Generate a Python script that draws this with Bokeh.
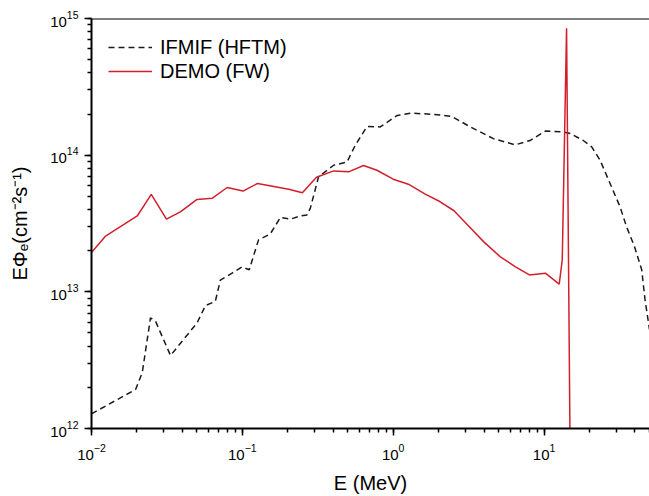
from bokeh.plotting import figure
from bokeh.models import (Range1d, LogTicker, Span, Legend, ColumnDataSource)
from bokeh.embed import file_html
from bokeh.resources import INLINE

# ---------------- data ----------------
ifmif_E = [0.01, 0.0196, 0.0217, 0.0246, 0.0266, 0.0334, 0.0501, 0.0569, 0.0662,
           0.0715, 0.0855, 0.0995, 0.111, 0.128, 0.153, 0.179, 0.208, 0.242, 0.268,
           0.282, 0.32, 0.403, 0.494, 0.56, 0.67, 0.82, 1.06, 1.3, 1.85, 2.45, 3.24,
           4.62, 6.43, 8.07, 10.2, 13.4, 14.9, 18.2, 20.7, 23.5, 27.4, 31.9, 35.2,
           39.8, 44.4, 46.7, 50.0]
ifmif_phi = [1.28e12, 1.93e12, 2.56e12, 6.44e12, 6.08e12, 3.42e12, 5.93e12, 7.93e12,
             8.52e12, 1.22e13, 1.37e13, 1.52e13, 1.45e13, 2.40e13, 2.65e13, 3.51e13,
             3.40e13, 3.59e13, 3.65e13, 4.08e13, 6.94e13, 8.44e13, 8.90e13, 1.18e14,
             1.62e14, 1.61e14, 1.95e14, 2.03e14, 1.99e14, 1.92e14, 1.61e14, 1.32e14,
             1.19e14, 1.28e14, 1.50e14, 1.48e14, 1.44e14, 1.28e14, 1.15e14, 9.2e13,
             6.2e13, 4.19e13, 3.0e13, 2.14e13, 1.45e13, 8.75e12, 5.3e12]

demo_E = [0.01, 0.0124, 0.0201, 0.0249, 0.0314, 0.0388, 0.0501, 0.063, 0.0793,
          0.101, 0.126, 0.203, 0.25, 0.31, 0.403, 0.506, 0.636, 0.78, 1.0, 1.26,
          1.63, 2.05, 2.53, 3.15, 3.97, 5.11, 6.43, 8.0, 10.2, 12.6, 13.2, 14.1, 15.1]
demo_phi = [1.94e13, 2.56e13, 3.59e13, 5.17e13, 3.40e13, 3.85e13, 4.74e13, 4.83e13,
            5.80e13, 5.46e13, 6.21e13, 5.64e13, 5.30e13, 6.9e13, 7.67e13, 7.55e13,
            8.40e13, 7.76e13, 6.67e13, 6.13e13, 5.19e13, 4.56e13, 3.92e13, 3.05e13,
            2.33e13, 1.81e13, 1.53e13, 1.33e13, 1.37e13, 1.14e13, 1.71e13, 8.5e14, 1e11]

series_names = ["IFMIF (HFTM)", "DEMO (FW)"]
x_label = "E (MeV)"
y_label = "EΦₑ(cm⁻²s⁻¹)"

FONT = "Liberation Sans"

W, H = 649, 496
ML, MR, MT, MB = 91, 0, 18, H - 429

p = figure(width=W, height=H, x_axis_type="log", y_axis_type="log",
           x_range=Range1d(0.01, 50), y_range=Range1d(1e12, 1e15),
           output_backend="svg", toolbar_location=None,
           min_border_left=ML, min_border_right=MR, min_border_top=MT,
           min_border_bottom=MB, outline_line_color=None)
p.xgrid.visible = False
p.ygrid.visible = False

src_i = ColumnDataSource(dict(x=ifmif_E, y=ifmif_phi))
src_d = ColumnDataSource(dict(x=demo_E, y=demo_phi))
r1 = p.line("x", "y", source=src_i, line_color="#1a1a1a", line_dash="6 4", line_width=1.5)
r2 = p.line("x", "y", source=src_d, line_color="#d21f2b", line_width=1.5)

for ax in (p.xaxis, p.yaxis):
    ax.ticker = LogTicker(num_minor_ticks=10)
    ax.axis_line_width = 2
    ax.axis_line_color = "black"
    ax.major_tick_line_width = 1.5
    ax.minor_tick_line_width = 1.5
    ax.major_tick_line_color = "black"
    ax.minor_tick_line_color = "black"
    ax.major_tick_in = 0
    ax.major_tick_out = 7
    ax.minor_tick_in = 0
    ax.minor_tick_out = 4
    ax.major_label_text_font = FONT
    ax.major_label_text_font_size = "15px"
    ax.major_label_text_color = "black"
    ax.axis_label_text_font = FONT
    ax.axis_label_text_font_size = "20px"
    ax.axis_label_text_font_style = "normal"
    ax.axis_label_text_color = "black"
p.xaxis.major_label_standoff = 8
p.yaxis.major_label_standoff = 6

p.xaxis.axis_label = x_label
p.xaxis.axis_label_standoff = 9
p.yaxis.axis_label = y_label
p.yaxis.axis_label_standoff = 16

# top border line
p.add_layout(Span(location=1e15, dimension="width", line_color="black", line_width=2))

legend = Legend(items=[(series_names[0], [r1]), (series_names[1], [r2])],
                location="top_left", margin=17, padding=0, spacing=0,
                glyph_width=44, glyph_height=24, label_height=24, label_standoff=8,
                label_text_font=FONT, label_text_font_size="20px",
                label_text_color="black", border_line_color=None,
                background_fill_alpha=0)
p.add_layout(legend)

open("out.html", "w").write(file_html(p, INLINE))
